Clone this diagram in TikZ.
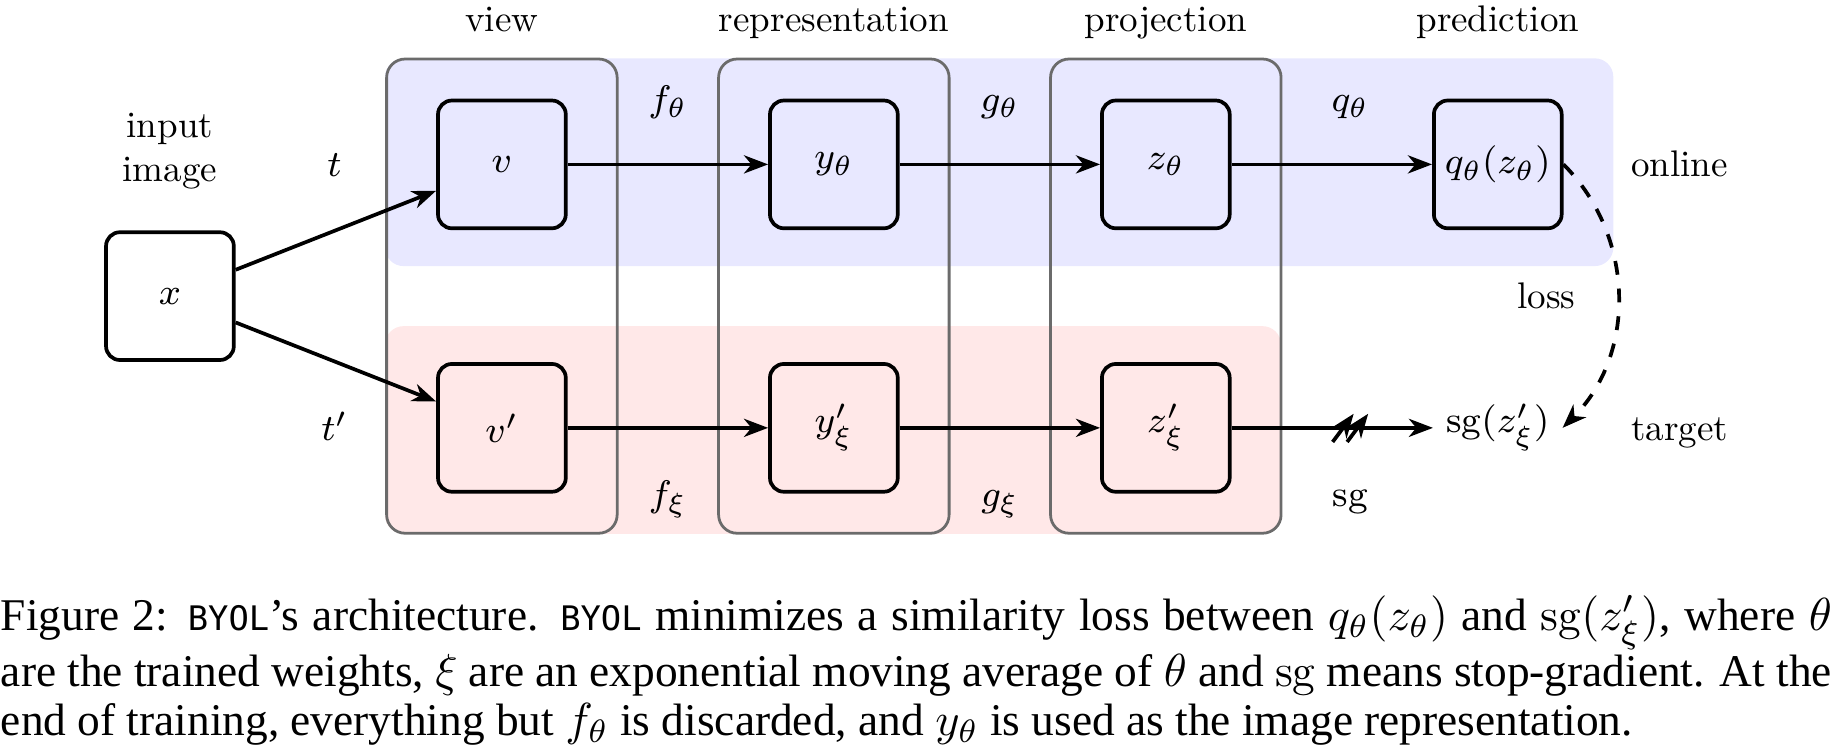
\documentclass[tikz,border=0pt]{standalone}
\usepackage{amsmath}
\usepackage{amssymb}
\usepackage{fontspec}
\newfontfamily\capfont{Liberation Serif}
\newfontfamily\monofont{DejaVu Sans Mono}
\newfontfamily\diagfont{lmroman10-regular.otf}
\usepackage{tikz}
\usetikzlibrary{arrows.meta,decorations.markings}
\newcommand{\byol}{{\monofont\fontsize{7.3pt}{10pt}\selectfont BYOL}}

\begin{document}
\begin{tikzpicture}[
  > = {Stealth[length=5.2pt,width=3.9pt,inset=1.6pt]},
  font = \footnotesize\diagfont,
  blk/.style = {draw,thick,rounded corners=3pt,minimum size=0.97cm,inner sep=1pt},
  plain/.style = {minimum size=0.97cm,inner sep=1pt},
  lbl/.style = {text height=1.5ex,text depth=.25ex,inner sep=0pt},
  colbox/.style = {draw=black!58,semithick,rounded corners=4pt},
  stop grad/.style = {postaction=decorate,decoration={markings,mark=at position .59 with {
      \draw[thick] (-0.135,-0.107) -- (0.025,0.107);
      \draw[thick] (-0.025,-0.107) -- (0.135,0.107);}}}
  ]
  \useasboundingbox (-1.29,-3.424) rectangle (12.678,2.248);
  \fill[blue!9,rounded corners=4pt] (1.633,0.228) rectangle (10.957,1.805);
  \fill[red!9,rounded corners=4pt] (1.633,-1.805) rectangle (8.435,-0.228);
  \draw[colbox] (1.645,-1.8) rectangle (3.395,1.8);
  \draw[colbox] (4.165,-1.8) rectangle (5.915,1.8);
  \draw[colbox] (6.685,-1.8) rectangle (8.435,1.8);
  \node[lbl] (view) at (2.52,2.1) {view};
  \node[lbl] (repr) at (5.04,2.1) {representation};
  \node[lbl] (proj) at (7.56,2.1) {projection};
  \node[lbl] (pred) at (10.08,2.1) {prediction};
  \node[blk] (x) at (0,0) {$x$};
  \node[align=center] (inp) at (0,1.1) {input\\image};
  \node[blk] (v) at (2.52,1) {$v$};
  \node[blk] (yt) at (5.04,1) {$y_\theta$};
  \node[blk] (zt) at (7.56,1) {$z_\theta$};
  \node[blk] (qt) at (10.08,1) {$q_\theta(z_\theta)$};
  \node[blk] (vp) at (2.52,-1) {$v'$};
  \node[blk] (yx) at (5.04,-1) {$y'_\xi$};
  \node[blk] (zx) at (7.56,-1) {$z'_\xi$};
  \node[plain] (sg) at (10.08,-1) {$\mathrm{sg}(z'_\xi)$};
  \node[lbl] (t) at (1.25,1) {$t$};
  \node[lbl] (tp) at (1.25,-1) {$t'$};
  \node[lbl] (ft) at (3.78,1.5) {$f_\theta$};
  \node[lbl] (gt) at (6.30,1.5) {$g_\theta$};
  \node[lbl] (qlab) at (8.96,1.5) {$q_\theta$};
  \node[lbl] (fx) at (3.78,-1.5) {$f_\xi$};
  \node[lbl] (gx) at (6.30,-1.5) {$g_\xi$};
  \node[lbl] (sglab) at (8.96,-1.5) {$\mathrm{sg}$};
  \node[lbl] (online) at (11.46,1) {online};
  \node[lbl] (target) at (11.46,-1) {target};
  \node[lbl] (loss) at (10.45,0) {loss};
  \draw[->,thick] ([yshift=2mm]x.east) -- ([yshift=-2mm]v.west);
  \draw[->,thick] ([yshift=-2mm]x.east) -- ([yshift=2mm]vp.west);
  \draw[->,thick] (v) -- (yt);
  \draw[->,thick] (yt) -- (zt);
  \draw[->,thick] (zt) -- (qt);
  \draw[->,thick] (vp) -- (yx);
  \draw[->,thick] (yx) -- (zx);
  \draw[->,thick,stop grad] (zx) -- (sg);
  \draw[->,thick,dashed] (qt.east) to[bend left=45] (sg.east);
  \node[anchor=base west,text width=13.9cm,inner sep=0pt,align=justify,
    font=\capfont\fontsize{9.8pt}{10.6pt}\selectfont] (cap) at (-1.29,-2.535)
    {Figure 2: \byol{}’s architecture. \byol{} minimizes a similarity loss between $q_\theta(z_\theta)$ and $\mathrm{sg}(z'_\xi)$, where $\theta$\linebreak
    are the trained weights, $\xi$ are an exponential moving average of $\theta$ and $\mathrm{sg}$ means stop-gradient. At the\linebreak
    end of training, everything but $f_\theta$ is discarded, and $y_\theta$ is used as the image representation.};
\end{tikzpicture}
\end{document}
